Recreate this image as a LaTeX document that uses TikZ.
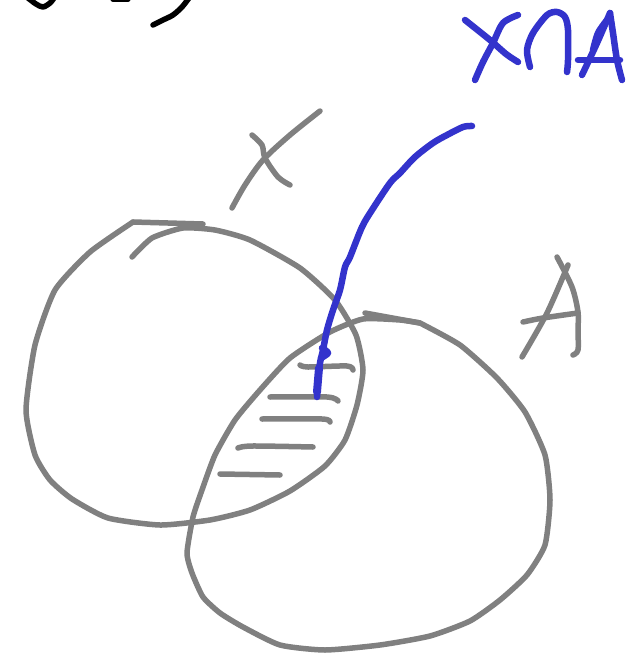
\documentclass[tikz,border=0pt]{standalone}
\begin{document}
\begin{tikzpicture}[x=1pt,y=-1pt,line cap=round,line join=round,
  pen/.style={line width=5.5pt,draw=penGray},
  bluepen/.style={line width=6.5pt,draw=penBlue},
  blackpen/.style={line width=5.5pt,draw=black}]
\definecolor{penGray}{HTML}{808080}
\definecolor{penBlue}{HTML}{3333CC}
\useasboundingbox (0,0) rectangle (640,653);
\fill[white] (0,0) rectangle (640,653);
% black scribbles at top
\draw[blackpen] plot[smooth] coordinates {(28,-2) (36,4) (43,7) (50,3) (54,-2)};
\draw[blackpen] (113,-1) -- (128,-1);
\draw[blackpen] plot[smooth] coordinates {(153,25) (163,20) (173,15) (182,7) (189,-2)};
% circle X
\draw[pen] (203,224) -- (133,222);
\draw[pen] plot[smooth,tension=0.35] coordinates {(133,222) (90,252) (55,290) (35,345) (26,410) (35,455) (50,480) (72,499) (108,518) (160,525) (210,520) (250,510) (290,491) (325,466) (345,440) (357,405) (363,370) (356,335) (335,300) (300,268) (250,240) (215,230) (183,228) (152,238) (132,257)};
% circle A
\draw[pen] plot[smooth,tension=0.5] coordinates {(365,313) (420,323)};
\draw[pen] plot[smooth,tension=0.35] coordinates {(420,323) (460,345) (497,378) (525,412) (545,455) (550,500) (545,545) (527,575) (500,600) (470,621) (430,636) (380,645) (325,650) (280,645) (243,627) (220,613) (203,597) (192,573) (187,553) (193,517) (202,490) (215,455) (235,420) (260,390) (290,358) (330,332) (363,319) (400,320) (420,323)};
% hatch lines
\draw[pen] plot[smooth] coordinates {(300,365) (308,367) (347,366) (353,370)};
\draw[pen] plot[smooth] coordinates {(270,397) (327,397) (338,401)};
\draw[pen] plot[smooth] coordinates {(262,419) (322,419) (330,422)};
\draw[pen] plot[smooth] coordinates {(238,448) (252,446) (313,447)};
\draw[pen] (220,474) -- (280,475);
% label X
\draw[pen] plot[smooth] coordinates {(320,111) (290,135) (263,160) (245,185) (232,208)};
\draw[pen] plot[smooth] coordinates {(252,135) (262,145) (265,158) (278,177) (290,185)};
% label A
\draw[pen] plot[smooth] coordinates {(568,265) (547,313) (522,357)};
\draw[pen] plot[smooth] coordinates {(557,257) (572,287) (578,312) (578,330) (578,350) (573,355)};
\draw[pen] plot[smooth] coordinates {(523,322) (543,318) (578,313)};
% blue connector
\draw[bluepen] plot[smooth] coordinates {(472,126) (463,127) (447,135) (433,143) (415,157) (400,173) (390,183) (372,210) (362,227) (350,257) (345,267) (340,290) (333,310) (327,330) (323,350) (320,363) (318,380) (317,397)};
\draw[bluepen] plot[smooth] coordinates {(322,348) (328,353) (321,358)};
\draw[bluepen,line width=8pt] (319,368) -- (317,392);
% blue label X cap A
\draw[bluepen] plot[smooth] coordinates {(465,20) (490,40) (506,54) (518,62)};
\draw[bluepen] plot[smooth] coordinates {(518,15) (503,23) (493,43) (483,62) (475,80)};
\draw[bluepen] plot[smooth] coordinates {(530,67) (527,50) (533,33) (547,15) (557,12) (565,17) (568,30) (568,60) (567,72)};
\draw[bluepen] plot[smooth] coordinates {(582,75) (597,43) (610,13)};
\draw[bluepen] plot[smooth] coordinates {(607,20) (598,33) (593,50)};
\draw[bluepen] plot[smooth] coordinates {(610,13) (613,33) (617,60) (622,80)};
\draw[bluepen] (578,60) -- (620,60);
\end{tikzpicture}
\end{document}
